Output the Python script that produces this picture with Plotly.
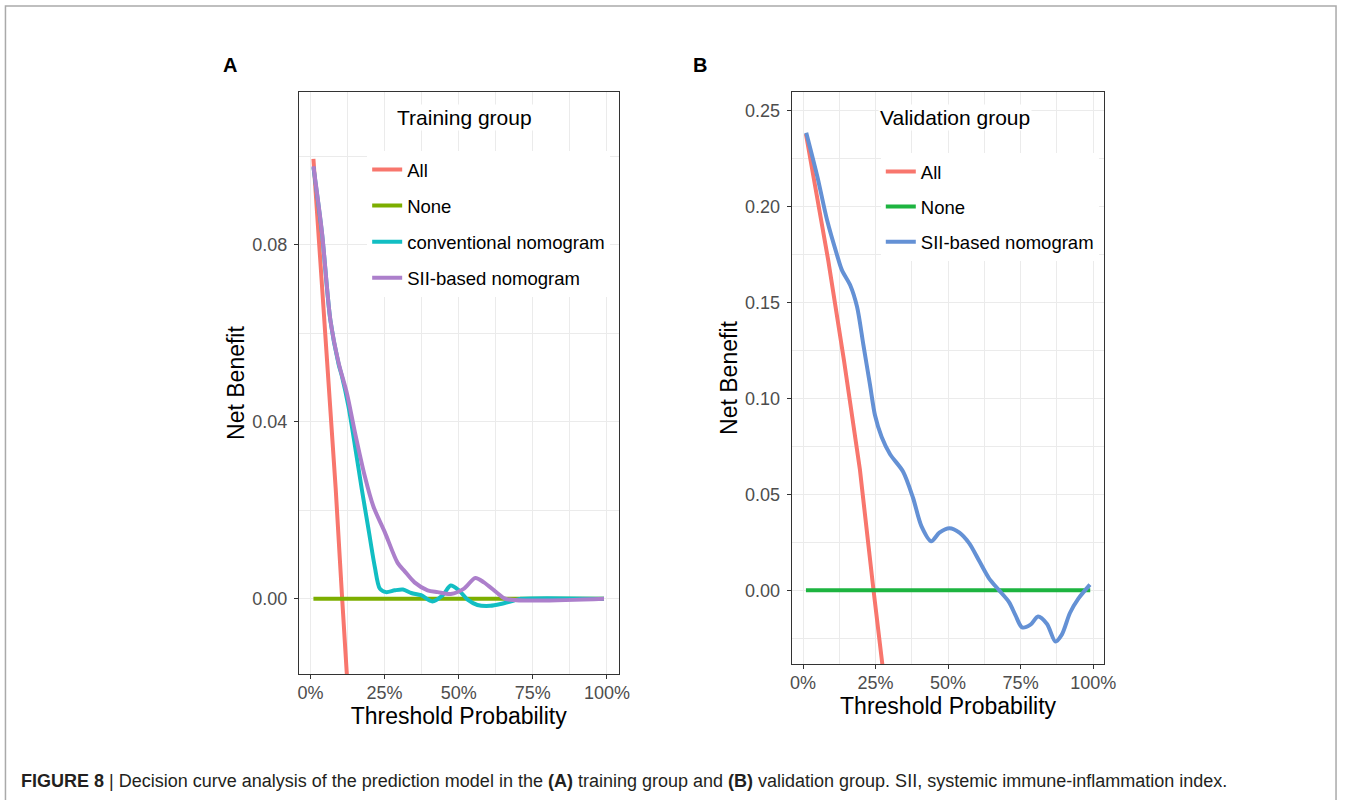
import plotly.graph_objects as go

# ---------------- data: panel A (training group) ----------------
a_all_t = [0.01, 0.04, 0.085, 0.107, 0.13]
a_all_nb = [0.0994, 0.0705, 0.0250, 0.0, -0.025]

a_none_t = [0.01, 0.99]
a_none_nb = [0.0, 0.0]

a_conv_t = [0.01, 0.039, 0.067, 0.095, 0.106, 0.128, 0.150, 0.173, 0.195, 0.217,
            0.234, 0.255, 0.284, 0.312, 0.340, 0.373, 0.411, 0.446, 0.473, 0.502,
            0.530, 0.563, 0.606, 0.641, 0.686, 0.710, 0.99]
a_conv_nb = [0.0975, 0.0825, 0.0630, 0.0530, 0.0503, 0.0435, 0.0346, 0.0248, 0.0160, 0.0072,
             0.0023, 0.0015, 0.0019, 0.0021, 0.0013, 0.0008, -0.0006, 0.0008, 0.0030, 0.0018,
             -0.0002, -0.0014, -0.0016, -0.0012, -0.0004, 0.0, 0.0]

a_sii_t = [0.01, 0.039, 0.067, 0.095, 0.123, 0.150, 0.184, 0.212, 0.251, 0.294,
           0.318, 0.351, 0.395, 0.429, 0.473, 0.518, 0.556, 0.585, 0.630, 0.657, 0.99]
a_sii_nb = [0.0977, 0.0827, 0.0631, 0.0533, 0.0464, 0.0376, 0.0275, 0.0209, 0.0150, 0.0081,
            0.0062, 0.0037, 0.0019, 0.0015, 0.0011, 0.0023, 0.0047, 0.0037, 0.0013, 0.0, 0.0]

# ---------------- data: panel B (validation group) ----------------
b_all_t = [0.01, 0.087, 0.141, 0.196, 0.243, 0.28]
b_all_nb = [0.238, 0.172, 0.120, 0.063, 0.0, -0.047]

b_none_t = [0.01, 0.99]
b_none_nb = [0.0, 0.0]

b_sii_t = [0.011, 0.049, 0.083, 0.117, 0.134, 0.163, 0.186, 0.208, 0.231, 0.248,
           0.271, 0.300, 0.345, 0.379, 0.408, 0.442, 0.470, 0.505, 0.539, 0.573,
           0.607, 0.641, 0.676, 0.710, 0.732, 0.755, 0.784, 0.810, 0.841, 0.870,
           0.892, 0.920, 0.949, 0.989]
b_sii_nb = [0.2387, 0.216, 0.193, 0.175, 0.167, 0.159, 0.148, 0.128, 0.107, 0.0913,
            0.080, 0.071, 0.0619, 0.0483, 0.0335, 0.0256, 0.0301, 0.0324, 0.0301, 0.0245,
            0.0154, 0.0063, 0.0, -0.0061, -0.0129, -0.0193, -0.0179, -0.0136, -0.0175, -0.0267,
            -0.0231, -0.0118, -0.0043, 0.0030]

caption = ("<b>FIGURE 8</b> | Decision curve analysis of the prediction model in the "
           "<b>(A)</b> training group and <b>(B)</b> validation group. "
           "SII, systemic immune-inflammation index.")

W, H = 1351, 800
FONT = "Liberation Sans, Arial, sans-serif"
LW = 4

fig = go.Figure()

def add(t, nb, name, color, xa, ya, leg, spline=False):
    fig.add_trace(go.Scatter(
        x=t, y=nb, mode="lines", name=name,
        line=dict(color=color, width=LW, shape="spline" if spline else "linear", smoothing=0.8),
        xaxis=xa, yaxis=ya, legend=leg, legendgroup=leg + name, showlegend=True,
        hoverinfo="skip"))

add(a_all_t, a_all_nb, "All", "#F8766D", "x", "y", "legend")
add(a_none_t, a_none_nb, "None", "#7CAE00", "x", "y", "legend")
add(a_conv_t, a_conv_nb, "conventional nomogram", "#12BEC3", "x", "y", "legend", True)
add(a_sii_t, a_sii_nb, "SII-based nomogram", "#AC7FCB", "x", "y", "legend", True)

add(b_all_t, b_all_nb, "All", "#F8766D", "x2", "y2", "legend2")
add(b_none_t, b_none_nb, "None", "#1DB440", "x2", "y2", "legend2")
add(b_sii_t, b_sii_nb, "SII-based nomogram", "#6491D5", "x2", "y2", "legend2", True)

GRID = "#EBEBEB"

def xaxis(dom):
    return dict(domain=dom, range=[-0.039, 1.039], tick0=0, dtick=0.25, tickformat=".0%",
                showgrid=True, gridcolor=GRID, gridwidth=1.4,
                minor=dict(dtick=0.125, tick0=0, showgrid=True, gridcolor=GRID, gridwidth=0.7),
                showline=True, mirror=True, linecolor="#333333", linewidth=1,
                ticks="outside", ticklen=4, tickcolor="#333333", zeroline=False,
                tickfont=dict(size=18, color="#4D4D4D"), ticklabelstandoff=-2,
                title=dict(text="Threshold Probability", font=dict(size=23, color="black"), standoff=0),
                automargin=True, fixedrange=True)

def yaxis(dom, rng, dt):
    return dict(domain=dom, range=rng, tick0=0, dtick=dt, tickformat=".2f",
                showgrid=True, gridcolor=GRID, gridwidth=1.4,
                minor=dict(dtick=dt / 2, tick0=0, showgrid=True, gridcolor=GRID, gridwidth=0.7),
                showline=True, mirror=True, linecolor="#333333", linewidth=1,
                ticks="outside", ticklen=4, tickcolor="#333333", zeroline=False,
                tickfont=dict(size=18, color="#4D4D4D"), ticklabelstandoff=3,
                title=dict(text="Net Benefit", font=dict(size=23, color="black"), standoff=1),
                automargin=True, fixedrange=True)

ax = dict(anchor="y"); ax.update(xaxis([300 / W, 623 / W]))
ay = dict(anchor="x"); ay.update(yaxis([1 - 674 / H, 1 - 92 / H], [-0.0170, 0.1145], 0.04))
bx = dict(anchor="y2"); bx.update(xaxis([798 / W, 1114 / W]))
by = dict(anchor="x2"); by.update(yaxis([1 - 664 / H, 1 - 92 / H], [-0.0384, 0.2599], 0.05))

leg_common = dict(xanchor="left", yanchor="top", bgcolor="white", borderwidth=0,
                  font=dict(size=18.5, color="black", family=FONT),
                  traceorder="grouped", itemwidth=30)

fig.update_layout(
    width=W, height=H, autosize=False, margin=dict(l=0, r=0, t=0, b=0),
    paper_bgcolor="white", plot_bgcolor="white",
    font=dict(family=FONT, color="black"),
    xaxis=ax, yaxis=ay, xaxis2=bx, yaxis2=by,
    legend=dict(x=369 / W, y=1 - 151 / H, tracegroupgap=9, **leg_common),
    legend2=dict(x=888 / W, y=1 - 153 / H, tracegroupgap=8, **leg_common),
)

annos = [
    dict(text="Training group", x=397 / W, y=1 - 117 / H, xanchor="left", yanchor="middle",
         font=dict(size=21, color="black"), bgcolor="white"),
    dict(text="Validation group", x=885 / W, y=1 - 117 / H, xanchor="left", yanchor="middle",
         font=dict(size=21, color="black"), bgcolor="white"),
    dict(text="<b>A</b>", x=230 / W, y=1 - 65 / H, xanchor="center", yanchor="middle",
         font=dict(size=20, color="black")),
    dict(text="<b>B</b>", x=705 / W, y=1 - 65 / H, xanchor="center", yanchor="middle",
         font=dict(size=20, color="black")),
    dict(text=caption, x=17 / W, y=1 - 780.5 / H, xanchor="left", yanchor="middle",
         font=dict(size=18, color="#231F20", family=FONT)),
]
for a in annos:
    a.update(xref="paper", yref="paper", showarrow=False)
fig.update_layout(annotations=annos)

fig.add_shape(type="rect", xref="paper", yref="paper",
              x0=3.5 / W, x1=1348 / W, y0=-0.05, y1=1 - 6 / H,
              line=dict(color="#AAAAAA", width=1.5), fillcolor="rgba(0,0,0,0)", layer="below")

fig.write_html("out.html", config={"displayModeBar": False, "responsive": False},
               post_script="document.body.style.margin='0';document.body.style.overflow='hidden';")
